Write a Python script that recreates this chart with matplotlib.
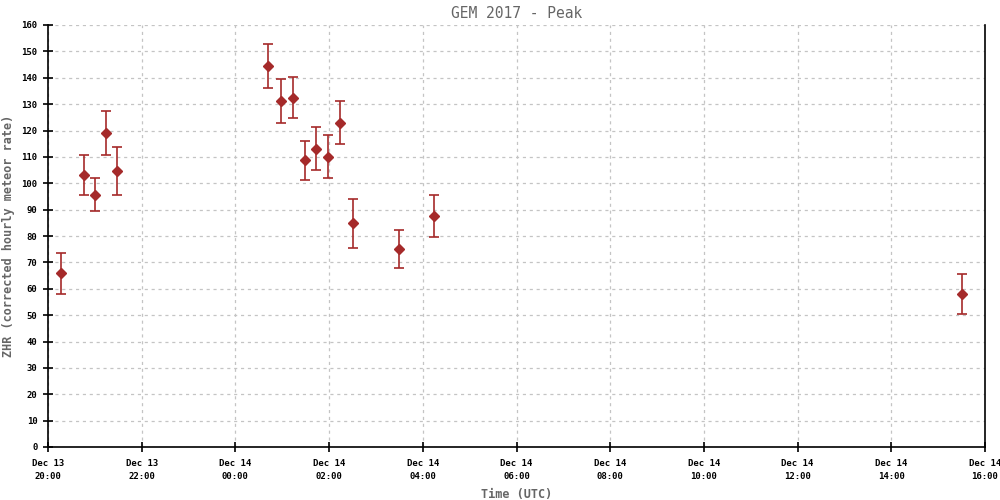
import datetime as dt
import matplotlib
matplotlib.use("Agg")
import matplotlib.pyplot as plt
import matplotlib.dates as mdates

times = ["2017-12-13 20:17", "2017-12-13 20:46", "2017-12-13 21:00", "2017-12-13 21:14",
         "2017-12-13 21:28", "2017-12-14 00:42", "2017-12-14 00:58", "2017-12-14 01:14",
         "2017-12-14 01:29", "2017-12-14 01:43", "2017-12-14 01:59", "2017-12-14 02:14",
         "2017-12-14 02:31", "2017-12-14 03:29", "2017-12-14 04:14", "2017-12-14 15:31"]
zhr = [66, 103.2, 95.6, 119.2, 104.7, 144.5, 131.2, 132.3, 108.8, 113, 110, 123, 85, 75, 87.6, 58]
zhr_low = [58, 95.5, 89.5, 110.8, 95.6, 136.2, 122.9, 124.8, 101.3, 105, 102, 115, 75.5, 68, 79.6, 50.5]
zhr_high = [73.5, 110.8, 102, 127.4, 113.8, 152.7, 139.5, 140.2, 116.1, 121.3, 118.3, 131.2, 94, 82.3, 95.6, 65.5]

t = [dt.datetime.strptime(s, "%Y-%m-%d %H:%M") for s in times]
err = [[z - lo for z, lo in zip(zhr, zhr_low)], [hi - z for z, hi in zip(zhr, zhr_high)]]

mono = "DejaVu Sans Mono"
red = "#a52a2a"
gray = "#666666"

fig = plt.figure(figsize=(10, 5), dpi=100)
ax = fig.add_axes([0.048, 0.106, 0.937, 0.844])

ax.errorbar(t, zhr, yerr=err, fmt="D", color=red, ecolor=red, markersize=4.8,
            elinewidth=1.2, capsize=3.5, capthick=1.2, zorder=3)

ax.set_xlim(dt.datetime(2017, 12, 13, 20, 0), dt.datetime(2017, 12, 14, 16, 0))
ax.set_ylim(0, 160)
ax.set_yticks(range(0, 161, 10))
ax.xaxis.set_major_locator(mdates.HourLocator(byhour=range(0, 24, 2)))
ax.xaxis.set_major_formatter(mdates.DateFormatter("%b %d\n%H:%M"))

ax.grid(True, color="#c4c4c4", linestyle=(0, (2.5, 3)), linewidth=0.9)
ax.set_axisbelow(True)
for side in ("left", "bottom", "right"):
    ax.spines[side].set_linewidth(1.2)
ax.spines["top"].set_visible(False)

ax.tick_params(axis="both", direction="inout", length=7, width=1.2, labelsize=6.5)
for lbl in ax.get_xticklabels() + ax.get_yticklabels():
    lbl.set_fontfamily(mono)
    lbl.set_fontweight("bold")
for lbl in ax.get_xticklabels():
    lbl.set_linespacing(1.6)
ax.tick_params(axis="x", pad=5)
ax.tick_params(axis="y", pad=4)

ax.set_title("GEM 2017 - Peak", fontsize=10.5, color=gray, family=mono, pad=5)
ax.set_xlabel("Time (UTC)", fontsize=8.5, color=gray, family=mono, fontweight="bold", labelpad=5)
ax.set_ylabel("ZHR (corrected hourly meteor rate)", fontsize=8.5, color=gray, family=mono,
              fontweight="bold", labelpad=5)

fig.savefig("out.png", dpi=100)
